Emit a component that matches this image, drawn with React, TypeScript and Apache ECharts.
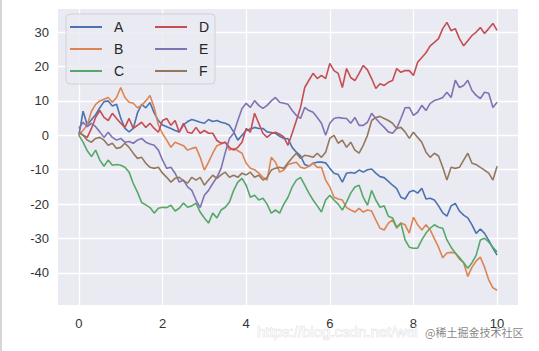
import React, { useEffect, useRef } from "react";
import * as echarts from "echarts";

const SERIES_NAMES = ["A", "B", "C", "D", "E", "F"];
const X_TICKS = [0, 2, 4, 6, 8, 10];
const Y_TICKS = [-40, -30, -20, -10, 0, 10, 20, 30];
const COLORS = ["#4C72B0", "#DD8452", "#55A868", "#C44E52", "#8172B3", "#937860"];

// values sampled every 0.1 on x from 0 to 10
const A = [0, 7, 3, 4.5, 6, 8, 9.8, 10, 8.5, 9, 5, 2, 1, 2, 6.5, 9, 8, 9.5, 6.5, 4.3,
  3, 2.5, 2, 1.4, 1, 3, 4, 4.6, 4.2, 3.8, 3.5, 4.6, 4, 4.3, 3.8, 3.5, 2.9, 1, -1.4, 0,
  1.4, 1.8, 2.3, 2, 2, 1, 0.8, 0.6, -0.3, -0.9, -1, -3.5, -4.9, -6, -8.5, -9, -8.1, -7.8, -7.8, -8,
  -9.6, -11, -11.4, -13.6, -11, -10.8, -11, -10.1, -10.7, -10, -9.8, -11, -12, -12.3, -13.4, -14.5, -15.5, -18, -18.5, -16.5,
  -16, -16.8, -15.4, -18.5, -18.3, -18.8, -20.5, -22.5, -23.5, -20.5, -19.8, -22, -23.2, -24, -26, -28.5, -27.2, -28.5, -30.5, -32.8,
  -34.8];
const B = [0, 1.5, 3, 7, 9, 10, 10.5, 11, 9.6, 11, 13.9, 11, 9.6, 9.3, 8, 8.7, 10, 11.6, 8, 3,
  0.5, -1.4, -3.5, -2, -2.5, -3, -4.3, -3.8, -3.5, -6.4, -10.1, -7.8, -5.2, -3, -2.5, -2, -4.3, -3.8, -4.5, -5.2,
  -8.1, -9.6, -10, -11, -12.2, -13, -6.4, -7.8, -10.7, -10.1, -8.5, -8.1, -7.8, -9.3, -9.6, -9, -8.1, -9.3, -9.3, -13,
  -15, -18, -18.5, -18.8, -21, -21.7, -22.3, -21.2, -22.3, -21.7, -22, -24.6, -27, -27.5, -25.5, -24.6, -27, -25.5, -26, -28.4,
  -23.8, -26, -27.5, -26, -27.5, -30, -32.5, -35.6, -34.2, -34, -34.2, -36, -37, -41, -38.3, -36.5, -35.4, -38.3, -42, -44.3,
  -45];
const C = [0, -2, -4.5, -6.2, -4.3, -7.2, -9, -7.2, -8.7, -8.5, -8.7, -9.3, -10.7, -14, -16.5, -19.5, -20.2, -21, -22.6, -21.2,
  -20.9, -21, -20.3, -22, -21.2, -19.7, -20.9, -20.5, -19.7, -22.3, -24, -25.5, -22.6, -24, -21.7, -20.9, -19.4, -16, -13.6, -12.5,
  -14.5, -18, -17.4, -18.8, -18.3, -20, -22.6, -21.7, -22.6, -20, -18, -15, -13, -12.2, -14.5, -16.8, -18.8, -20.5, -22.3, -18.8,
  -17.4, -18.8, -20, -21.7, -19.4, -16.8, -15, -14.5, -18, -20.3, -16, -18.8, -20.9, -20.5, -23.5, -24, -26.7, -25.5, -30.4, -32.5,
  -32.8, -32.8, -30.4, -28.4, -27, -26, -26.7, -27, -30.4, -32.5, -34.2, -35.5, -37, -38.6, -37, -34.8, -30.4, -29.9, -31, -32.5,
  -33.9];
const D = [1, 0, -0.6, 2, 5.2, 7.2, 5.2, 4.3, 6.4, 4.9, 3.5, 2.3, 4.9, 2, 2.9, 3.8, 2.3, 3.5, 2, 0.9,
  4.3, 4.9, 2.9, 4.3, 0.9, 3.5, 0.9, 0.6, 2.3, 0.6, 1.4, 0.6, 0.6, -1.5, -2.3, -2, -3.5, -4.3, -3.5, -2,
  2, 0.9, 6.4, 3.5, 0.6, -0.6, 0.5, 0.9, 0.3, -0.5, -2.9, 0.6, 4.3, 8.1, 13.9, 16, 18, 16.5, 17.4, 16.5,
  20.9, 18.8, 18, 13.9, 19.4, 16.8, 15.9, 18, 20.3, 19, 16.5, 13.6, 15, 14.5, 15.4, 15.9, 19.4, 18.3, 18.8, 18.8,
  17.4, 21.2, 22.6, 24, 26, 27, 28.1, 31, 32.8, 30.4, 31, 28.1, 26, 27.5, 29, 30, 31.3, 29.6, 31, 32.5,
  30.5];
const E = [2, 3.8, 2.5, 3.5, 2.5, 1, -0.6, 0.9, -0.6, -1.4, -0.9, -2, -1.8, -2.3, -1.4, -0.9, -2, -2.5, -2.9, -4.3,
  -7.2, -9.6, -9.3, -11, -13.6, -13, -15, -16, -18.8, -21, -17.4, -16, -14, -12.2, -9.6, -5, -0.9, 0.6, 4.3, 7.8,
  9.3, 8.1, 10.1, 8.7, 7.8, 8.7, 10, 11, 9.6, 9.3, 9, 7.2, 5.8, 4.9, 8.1, 7.2, 6.7, 5.2, 3.5, 0,
  3.5, 4.9, 5.2, 5, 4.9, 3.5, 5.2, 2.9, 2.9, 3.8, 6.4, 4.9, 3.5, 2.3, 1, 0.6, 2, 4.9, 8, 8.1,
  5.8, 6.7, 8.7, 7.2, 9.3, 10.1, 10.5, 11, 12.5, 11, 16, 13.9, 14.5, 16, 13, 11.6, 10.7, 12.5, 12.2, 8.1,
  9.6];
const F = [1, 0, -1.4, -2, -0.9, -0.6, -1.4, -2.9, -2.3, -3.8, -3.5, -2.3, -3.5, -5.2, -6.7, -6.4, -8.1, -9.3, -9.6, -9.3,
  -11, -12.2, -13.6, -12.5, -12.2, -13.2, -13.9, -12.2, -13, -12.2, -14.5, -13, -11.6, -12.5, -11.5, -10.7, -12.2, -11.6, -12.2, -11,
  -11.5, -10.7, -12.2, -11.6, -13, -12.2, -10.1, -9.6, -9.3, -9.6, -8, -6.5, -5.2, -6.7, -5.8, -6, -6.4, -5.2, -6.4, -4.9,
  -0.9, 0, -2.3, -1.4, -3.5, -2, -4.3, -5.2, -2.9, 0, 4.3, 5.2, 5.5, 4.9, 4.3, 3.5, 2, 2.3, 1, -0.9,
  0.9, -0.6, -2, -4.9, -6.4, -5.2, -6, -9.3, -13, -9.3, -9.6, -9.3, -7.2, -5.2, -8.1, -8.5, -9.3, -10.1, -11, -13,
  -9];

const VALUES = [A, B, C, D, E, F];
const X_STEP = 0.1;

export default function App() {
  const ref = useRef<HTMLDivElement>(null);
  useEffect(() => {
    if (!ref.current) return;
    const chart = echarts.init(ref.current, null, { renderer: "svg" });
    const font = "Liberation Sans, Arial, sans-serif";
    const series = SERIES_NAMES.map((name, k) => ({
      name,
      type: "line",
      symbol: "none",
      data: VALUES[k].map((v, i) => [+(i * X_STEP).toFixed(1), v]),
      lineStyle: { color: COLORS[k], width: 1.6 },
      itemStyle: { color: COLORS[k] },
      z: 2,
    }));
    const legendCommon = {
      orient: "vertical",
      top: 19,
      icon: "rect",
      itemWidth: 32,
      itemHeight: 2,
      itemGap: 6,
      textStyle: {
        fontFamily: font,
        fontSize: 14,
        lineHeight: 16,
        color: "#262626",
        padding: [0, 0, 0, 7],
      },
      padding: 0,
      z: 6,
    };
    chart.setOption({
      animation: false,
      backgroundColor: "#ffffff",
      grid: {
        left: 58,
        right: 21,
        top: 9,
        bottom: 46,
        show: true,
        backgroundColor: "#EAEAF2",
        borderWidth: 0,
      },
      xAxis: {
        type: "value",
        min: -0.5,
        max: 10.5,
        axisLine: { show: false },
        axisTick: { show: false, customValues: X_TICKS },
        axisLabel: { customValues: X_TICKS, fontFamily: font, fontSize: 13, color: "#333", margin: 12 },
        splitLine: { show: true, lineStyle: { color: "#ffffff", width: 1.3 } },
      },
      yAxis: {
        type: "value",
        min: -49.3,
        max: 36.7,
        axisLine: { show: false },
        axisTick: { show: false, customValues: Y_TICKS },
        axisLabel: { customValues: Y_TICKS, fontFamily: font, fontSize: 13, color: "#333", margin: 9 },
        splitLine: { show: true, lineStyle: { color: "#ffffff", width: 1.3 } },
      },
      legend: [
        { ...legendCommon, left: 70, data: SERIES_NAMES.slice(0, 3) },
        { ...legendCommon, left: 155, data: SERIES_NAMES.slice(3, 6) },
      ],
      graphic: [
        {
          type: "rect",
          z: 5,
          shape: { x: 66, y: 14, width: 149, height: 70, r: 4 },
          style: { fill: "rgba(234,234,242,0.85)", stroke: "#d0d0d8", lineWidth: 1 },
        },
        {
          type: "line",
          z: 10,
          shape: { x1: 1, y1: 0, x2: 1, y2: 351 },
          style: { stroke: "#c8c8c8", lineWidth: 1.5 },
        },
        {
          type: "text",
          z: 10,
          x: 257,
          y: 331,
          style: {
            text: "https://blog.csdn.net/wei",
            fontFamily: font,
            fontSize: 15,
            fill: "rgba(255,255,255,0.7)",
            stroke: "rgba(180,180,190,0.6)",
            lineWidth: 0.6,
            verticalAlign: "middle",
          },
        },
        {
          type: "text",
          z: 10,
          x: 425,
          y: 332,
          style: {
            text: "@稀土掘金技术社区",
            fontFamily: "Noto Sans CJK SC, sans-serif",
            fontSize: 11,
            fill: "rgba(110,110,110,0.85)",
            verticalAlign: "middle",
          },
        },
      ],
      series,
    });
    return () => chart.dispose();
  }, []);
  return (
    <div
      ref={ref}
      style={{ position: "fixed", left: 0, top: 0, width: 539, height: 351 }}
    />
  );
}
